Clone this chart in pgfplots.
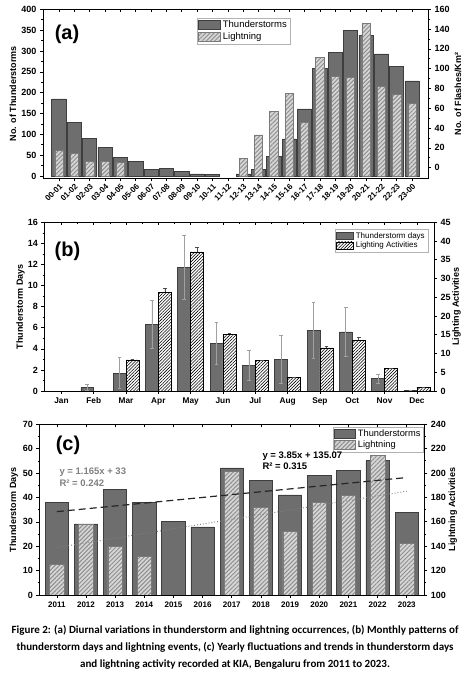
\documentclass[border=0pt]{standalone}
\usepackage{fontspec}
\setmainfont{Liberation Sans}
\newfontfamily\capfont{Carlito}
\usepackage{pgfplots}
\pgfplotsset{compat=1.18}
\usepackage{pgfplotstable}
\usetikzlibrary{patterns.meta}
\definecolor{darkbar}{HTML}{6E6E6E}
\definecolor{darkedge}{HTML}{3E3E3E}
\definecolor{hatchfill}{HTML}{D6D6D6}
\definecolor{hatchline}{HTML}{8E8E8E}
\definecolor{hatchedge}{HTML}{7A7A7A}
\definecolor{errgray}{HTML}{A0A0A0}

\pgfplotsset{
  every axis/.append style={
    scale only axis,
    /pgf/number format/assume math mode=true,
    ticklabel style={font=\bfseries\fontsize{9}{10}\selectfont},
    label style={font=\bfseries\fontsize{9}{10}\selectfont},
    major tick length=3pt, minor tick length=1.8pt,
    tick style={black, line width=0.6pt},
    axis line style={line width=0.8pt},
  },
}

% ---------- (a) diurnal ----------
\pgfplotstableread{
i T
0 185
1 129
2 91
3 69
4 44
5 35
6 16
7 18
8 11
9 5
10 3
12 5
13 16
14 46
15 89
16 161
17 258
18 297
19 350
20 337
21 293
22 263
23 228
}\dataTa
\pgfplotstableread{
i L
0 17.2
1 14.5
2 6.5
3 6.5
4 5.4
12 9
13 33
14 57
15 75
16 45.5
17 111
18 92
19 91
20 146
21 82
22 74
23 65
}\dataLa

% ---------- (b) monthly ----------
\pgfplotstableread{
m T Te
2 0.35 0.3
3 1.7 1.45
4 6.35 2.27
5 11.75 3.05
6 4.5 2.0
7 2.42 1.42
8 3.0 2.3
9 5.76 2.67
10 5.6 2.3
11 1.17 0.43
12 0.08 0
}\dataTb
\pgfplotstableread{
m L Le
3 8.27 0.2
4 26.3 1.1
5 37.1 1.2
6 15.1 0.3
7 8.1 0.15
8 3.56 0.15
9 11.5 0.5
10 13.5 0.8
11 6.05 0
12 1.0 0
}\dataLb

% ---------- (c) yearly ----------
\pgfplotstableread{
yr T
2011 38.0
2012 29.1
2013 43.1
2014 38.0
2015 30.1
2016 27.9
2017 52.1
2018 47.0
2019 41.0
2020 48.9
2021 50.9
2022 55.0
2023 33.9
}\dataTc
\pgfplotstableread{
yr L
2011 124.8
2012 157.9
2013 139.6
2014 131.9
2017 201.0
2018 172.0
2019 151.9
2020 175.9
2021 181.9
2022 214.7
2023 142.3
}\dataLc
\pgfplotstableread{
yr T
2011 34.165
2023 48.145
}\trendT
\pgfplotstableread{
yr L
2011 138.92
2023 185.12
}\trendL

\begin{document}
\begin{tikzpicture}
\useasboundingbox (0,0) rectangle (470pt,680pt);

% ================= (a) =================
\begin{axis}[
  at={(43pt,501.5pt)}, anchor=south west,
  width=385pt, height=169.2pt,
  xmin=-1.04, xmax=24.04, ymin=-6, ymax=400,
  ytick={0,50,...,400}, minor y tick num=1,
  xtick={0,...,23},
  xticklabels={00-01,01-02,02-03,03-04,04-05,05-06,06-07,07-08,08-09,09-10,10-11,11-12,12-13,13-14,14-15,15-16,16-17,17-18,18-19,19-20,20-21,21-22,22-23,23-00},
  xticklabel style={rotate=45, anchor=north east, inner sep=1pt, font=\bfseries\fontsize{8}{9}\selectfont},
  tick align=outside, xtick pos=bottom, ytick pos=left,
  ylabel={No. of Thunderstorms},
  ylabel style={at={(axis description cs:-0.078,0.5)}, anchor=center},
  legend cell align=left,
  legend image code/.code={\draw[#1] (0pt,-4.5pt) rectangle (22pt,4.5pt);},
  legend style={at={(axis description cs:0.4,0.95)}, anchor=north west,
    draw=gray!60, fill=white, font=\fontsize{9.5}{10}\selectfont,
    inner sep=1pt, row sep=-1pt},
]
\addplot[ybar, bar shift=0pt, bar width=0.93, fill=darkbar, draw=darkedge, line width=0.7pt]
  table[x=i, y=T]{\dataTa};
\addlegendentry{Thunderstorms}
\addplot[ybar, bar shift=0pt, bar width=0.54, fill=hatchfill, draw=hatchedge, line width=0.6pt,
  postaction={pattern={Lines[angle=45,distance=3pt,line width=1pt]}, pattern color=hatchline}]
  table[x=i, y expr=20.1+2.374*\thisrow{L}]{\dataLa};
\addlegendentry{Lightning}
\end{axis}
\begin{axis}[
  at={(43pt,501.5pt)}, anchor=south west,
  width=385pt, height=169.2pt,
  xmin=-1.04, xmax=24.04, ymin=-11, ymax=160,
  axis x line*=top, axis y line*=right,
  xtick={0,...,23}, xticklabels={}, major x tick style={yshift=-3pt},
  ytick={0,20,...,160}, minor y tick num=1,
  tick align=outside,
  ylabel={No. of Flashes/Km²},
  ylabel style={at={(axis description cs:1.078,0.5)}, anchor=center},
]
\end{axis}
\node[font=\bfseries\fontsize{20}{20}\selectfont] at (67pt,645.5pt) {(a)};

% ================= (b) =================
\begin{axis}[
  at={(44.3pt,289pt)}, anchor=south west,
  width=389.7pt, height=168.7pt,
  xmin=0.47, xmax=12.53, ymin=0, ymax=16,
  ytick={0,2,...,16}, minor y tick num=1,
  xtick={1,...,12},
  xticklabels={Jan,Feb,Mar,Apr,May,Jun,Jul,Aug,Sep,Oct,Nov,Dec},
  xticklabel style={font=\bfseries\fontsize{8.3}{9}\selectfont},
  tick align=outside, xtick pos=bottom, ytick pos=left,
  ylabel={Thunderstorm Days},
  ylabel style={at={(axis description cs:-0.061,0.5)}, anchor=center},
]
\addplot[ybar, bar shift=0pt, bar width=0.4, fill=darkbar, draw=darkedge, line width=0.6pt,
  error bars/.cd, y dir=both, y explicit,
  error bar style={errgray, line width=0.6pt},
  error mark options={rotate=90, mark size=1.8pt, errgray, line width=0.6pt}]
  table[x expr=\thisrow{m}-0.2, y=T, y error=Te]{\dataTb};
\end{axis}
\begin{axis}[
  at={(44.3pt,289pt)}, anchor=south west,
  width=389.7pt, height=168.7pt,
  xmin=0.47, xmax=12.53, ymin=0, ymax=45,
  axis x line*=top, axis y line*=right,
  xtick={1,...,12}, xticklabels={}, minor x tick num=1,
  major x tick style={yshift=-3pt}, minor x tick style={yshift=-1.8pt},
  ytick={0,5,...,45},
  tick align=outside,
  ylabel={Lighting Activities},
  ylabel style={at={(axis description cs:1.058,0.5)}, anchor=center},
  legend cell align=left,
  legend image code/.code={\draw[#1] (0pt,-3.8pt) rectangle (17pt,3.8pt);},
  legend style={at={(axis description cs:0.746,0.96)}, anchor=north west,
    draw=gray!60, fill=white, font=\fontsize{8}{8.5}\selectfont,
    inner sep=1pt, row sep=-1.5pt},
]
\addlegendimage{fill=darkbar, draw=darkedge, line width=0.6pt}
\addlegendentry{Thunderstorm days}
\addplot[ybar, bar shift=0pt, bar width=0.4, fill=white, draw=black, line width=0.6pt,
  postaction={pattern={Lines[angle=45,distance=2.2pt,line width=0.55pt]}, pattern color=black},
  error bars/.cd, y dir=plus, y explicit,
  error bar style={black!70, line width=0.5pt},
  error mark options={rotate=90, mark size=1.8pt, black!70, line width=0.5pt}]
  table[x expr=\thisrow{m}+0.2, y=L, y error=Le]{\dataLb};
\addlegendentry{Lighting Activities}
\end{axis}
\node[font=\bfseries\fontsize{20}{20}\selectfont] at (67.5pt,428.3pt) {(b)};

% ================= (c) =================
\begin{axis}[
  at={(39.3pt,85pt)}, anchor=south west,
  width=385pt, height=170.8pt,
  xmin=2010.4, xmax=2023.6, ymin=0, ymax=70,
  ytick={0,10,...,70}, minor y tick num=1,
  xtick={2011,...,2023},
  xticklabel style={font=\bfseries\fontsize{8}{9}\selectfont, /pgf/number format/1000 sep={}},
  tick align=outside, xtick pos=bottom, ytick pos=left,
  ylabel={Thunderstorm Days},
  ylabel style={at={(axis description cs:-0.066,0.5)}, anchor=center},
  legend cell align=left,
  legend image code/.code={\draw[#1] (0pt,-4.5pt) rectangle (21pt,4.5pt);},
  legend style={at={(axis description cs:0.763,0.984)}, anchor=north west,
    draw=gray!60, fill=white, font=\fontsize{9.3}{10}\selectfont,
    inner sep=1pt, row sep=-1.5pt},
]
\addplot[ybar, bar shift=0pt, bar width=0.8, fill=darkbar, draw=darkedge, line width=0.7pt]
  table[x=yr, y=T]{\dataTc};
\addlegendentry{Thunderstorms}
\addplot[ybar, bar shift=0pt, bar width=0.5, fill=hatchfill, draw=hatchedge, line width=0.6pt,
  postaction={pattern={Lines[angle=45,distance=3pt,line width=1pt]}, pattern color=hatchline}]
  table[x=yr, y expr=(\thisrow{L}-100)/2]{\dataLc};
\addlegendentry{Lightning}
\addplot[forget plot, gray, dotted, line width=0.9pt] table[x=yr, y expr=(\thisrow{L}-100)/2]{\trendL};
\addplot[forget plot, black!85, dash pattern=on 7pt off 4pt, line width=1.2pt] table[x=yr, y=T]{\trendT};
\end{axis}
\begin{axis}[
  at={(39.3pt,85pt)}, anchor=south west,
  width=385pt, height=170.8pt,
  xmin=2010.4, xmax=2023.6, ymin=100, ymax=240,
  axis x line*=top, axis y line*=right,
  xtick={2011,...,2023}, xticklabels={}, minor x tick num=1,
  major x tick style={yshift=-3pt}, minor x tick style={yshift=-1.8pt},
  ytick={100,120,...,240}, minor y tick num=1,
  tick align=outside,
  ylabel={Lightning Activities},
  ylabel style={at={(axis description cs:1.074,0.5)}, anchor=center},
]
\end{axis}
\node[font=\bfseries\fontsize{20}{20}\selectfont] at (68pt,235pt) {(c)};
\node[anchor=west, text=gray, font=\bfseries\fontsize{9.5}{10}\selectfont, inner sep=0pt] at (59.3pt,208pt) {y = 1.165x + 33};
\node[anchor=west, text=gray, font=\bfseries\fontsize{9.5}{10}\selectfont, inner sep=0pt] at (59.3pt,196.5pt) {R² = 0.242};
\node[anchor=west, font=\bfseries\fontsize{9.5}{10}\selectfont, inner sep=0pt] at (262.3pt,223.7pt) {y = 3.85x + 135.07};
\node[anchor=west, font=\bfseries\fontsize{9.5}{10}\selectfont, inner sep=0pt] at (262.3pt,213.3pt) {R² = 0.315};

% ================= caption =================
\node[align=center, font=\capfont\bfseries\fontsize{11}{17}\selectfont, inner sep=0pt] at (235pt,32.5pt)
 {Figure 2: (a) Diurnal variations in thunderstorm and lightning occurrences, (b) Monthly patterns of\\
  thunderstorm days and lightning events, (c) Yearly fluctuations and trends in thunderstorm days\\
  and lightning activity recorded at KIA, Bengaluru from 2011 to 2023.};
\end{tikzpicture}
\end{document}
